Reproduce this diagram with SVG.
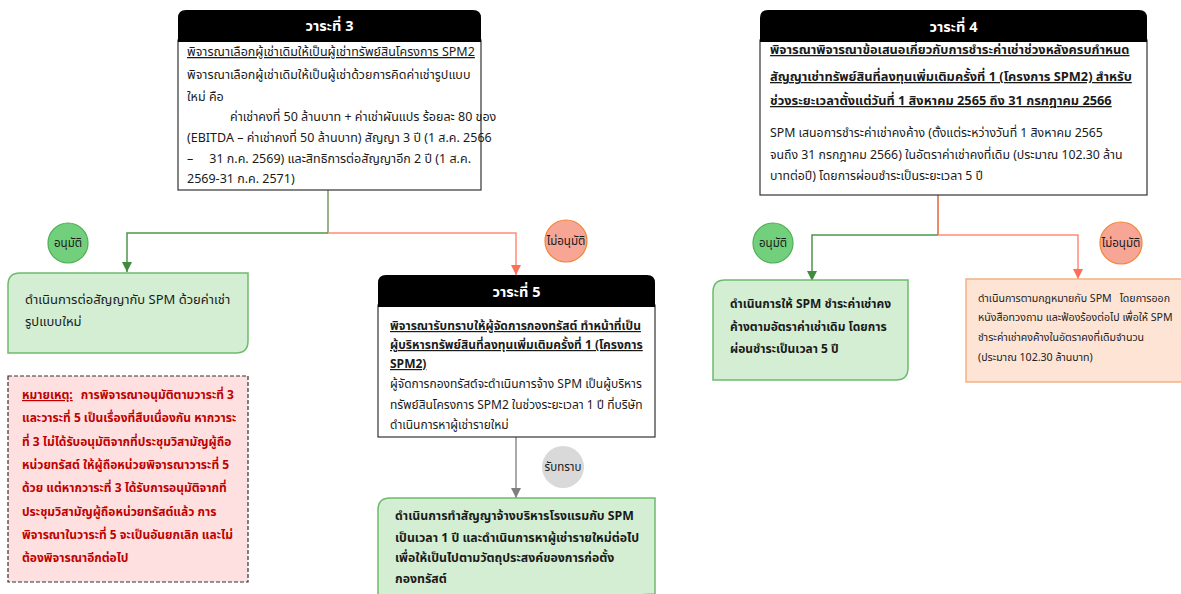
<svg xmlns="http://www.w3.org/2000/svg" width="1181" height="594" viewBox="0 0 1181 594">
<style>
text{font-family:"Noto Sans Thai","Tahoma","Leelawadee UI","Liberation Sans","DejaVu Sans",sans-serif;font-size:12px;fill:#1a1a1a}
.hd{fill:#fff;font-size:14.500px;font-weight:bold;text-anchor:middle}
.ul{text-decoration:underline}
.b{font-weight:bold}
.hdr{fill:#000}
.body{fill:#fff;stroke:#333;stroke-width:1.2}
.gbox{fill:#d3eed3;stroke:#6dbb6d;stroke-width:1.5}
.obox{fill:#fde4d4;stroke:#f4b183;stroke-width:1.5}
.note{fill:#fde0df;stroke:#333;stroke-width:1.2;stroke-dasharray:4 2}
.red{fill:#c00000;font-weight:bold}
.ok{fill:#72cf7c;stroke:#4fae57;stroke-width:1.2}
.no{fill:#f7a595;stroke:#f0852f;stroke-width:1.2}
.ack{fill:#d9d9d9}
.cl{font-size:11.500px;text-anchor:middle}
.gl{fill:none;stroke:#4f954f;stroke-width:1.5}
.rl{fill:none;stroke:#ff8a7a;stroke-width:1.5}
.gr{fill:none;stroke:#8c8c8c;stroke-width:1.5}
.s3 text{font-size:12.500px}
.s4 text{font-size:12.300px}
.s4 .t4{font-size:12.800px;font-weight:bold}
.or text{font-size:10.600px;fill:#222}
</style>
<defs>
<marker id="ag" markerUnits="userSpaceOnUse" markerWidth="12" markerHeight="12" refX="10" refY="5" orient="auto"><path d="M0 0 L10 5 L0 10 Z" fill="#3f8a3f"/></marker>
<marker id="ar" markerUnits="userSpaceOnUse" markerWidth="12" markerHeight="12" refX="10" refY="5" orient="auto"><path d="M0 0 L10 5 L0 10 Z" fill="#ff6e5a"/></marker>
<marker id="ay" markerUnits="userSpaceOnUse" markerWidth="12" markerHeight="12" refX="10" refY="5" orient="auto"><path d="M0 0 L10 5 L0 10 Z" fill="#7f7f7f"/></marker>
</defs>

<g id="connectors">
<path d="M328 190 V233" fill="none" stroke="#7a9a60" stroke-width="1.5"/>
<path class="gl" d="M328 233 H127 V272" marker-end="url(#ag)"/>
<path class="rl" d="M328 233 H516 V275" marker-end="url(#ar)"/>
<path d="M938 195 V235" fill="none" stroke="#e8603c" stroke-width="1.5"/>
<path class="gl" d="M938 235 H812 V281" marker-end="url(#ag)"/>
<path class="rl" d="M938 235 H1078 V279" marker-end="url(#ar)"/>
<path class="gr" d="M516 437 V498" marker-end="url(#ay)"/>
</g>

<g id="agenda3" class="s3">
<rect class="body" x="178" y="40" width="303" height="150"/>
<path class="hdr" d="M178 42 V18 Q178 10 186 10 H473 Q481 10 481 18 V42 Z"/>
<text class="hd" x="329.500" y="31" style="font-size:14.500px">วาระที่ 3</text>
<text class="ul" x="187" y="56">พิจารณาเลือกผู้เช่าเดิมให้เป็นผู้เช่าทรัพย์สินโครงการ SPM2</text>
<text x="187" y="79">พิจารณาเลือกผู้เช่าเดิมให้เป็นผู้เช่าด้วยการคิดค่าเช่ารูปแบบ</text>
<text x="187" y="101">ใหม่ คือ</text>
<text x="230" y="121">ค่าเช่าคงที่ 50 ล้านบาท + ค่าเช่าผันแปร ร้อยละ 80 ของ</text>
<text x="187" y="142">(EBITDA – ค่าเช่าคงที่ 50 ล้านบาท) สัญญา 3 ปี (1 ส.ค. 2566</text>
<text x="187" y="163">–</text>
<text x="471" y="163" text-anchor="end">31 ก.ค. 2569) และสิทธิการต่อสัญญาอีก 2 ปี (1 ส.ค.</text>
<text x="187" y="183">2569-31 ก.ค. 2571)</text>
</g>

<g id="agenda4" class="s4">
<rect class="body" x="760" y="40" width="387" height="155"/>
<path class="hdr" d="M760 42 V18 Q760 10 768 10 H1139 Q1147 10 1147 18 V42 Z"/>
<text class="hd" x="953.500" y="32" style="font-size:14.500px">วาระที่ 4</text>
<text class="ul t4" x="770" y="54">พิจารณาพิจารณาข้อเสนอเกี่ยวกับการชำระค่าเช่าช่วงหลังครบกำหนด</text>
<text class="ul t4" x="770" y="81">สัญญาเช่าทรัพย์สินที่ลงทุนเพิ่มเติมครั้งที่ 1 (โครงการ SPM2) สำหรับ</text>
<text class="ul t4" x="770" y="105">ช่วงระยะเวลาตั้งแต่วันที่ 1 สิงหาคม 2565 ถึง 31 กรกฎาคม 2566</text>
<text x="770" y="137">SPM เสนอการชำระค่าเช่าคงค้าง (ตั้งแต่ระหว่างวันที่ 1 สิงหาคม 2565</text>
<text x="770" y="159">จนถึง 31 กรกฎาคม 2566) ในอัตราค่าเช่าคงที่เดิม (ประมาณ 102.30 ล้าน</text>
<text x="770" y="180">บาทต่อปี) โดยการผ่อนชำระเป็นระยะเวลา 5 ปี</text>
</g>

<g id="agenda5">
<rect class="body" x="378" y="305" width="277" height="132"/>
<path class="hdr" d="M378 307 V283 Q378 275 386 275 H647 Q655 275 655 283 V307 Z"/>
<text class="hd" x="516.500" y="297">วาระที่ 5</text>
<text class="ul b" x="390" y="330">พิจารณารับทราบให้ผู้จัดการกองทรัสต์ ทำหน้าที่เป็น</text>
<text class="ul b" x="390" y="349">ผู้บริหารทรัพย์สินที่ลงทุนเพิ่มเติมครั้งที่ 1 (โครงการ</text>
<text class="ul b" x="390" y="368">SPM2)</text>
<text x="390" y="388">ผู้จัดการกองทรัสต์จะดำเนินการจ้าง SPM เป็นผู้บริหาร</text>
<text x="390" y="409">ทรัพย์สินโครงการ SPM2 ในช่วงระยะเวลา 1 ปี ที่บริษัท</text>
<text x="390" y="429">ดำเนินการหาผู้เช่ารายใหม่</text>
</g>

<g id="approve3">
<circle class="ok" cx="68" cy="243" r="20"/>
<text class="cl" x="68" y="247">อนุมัติ</text>
</g>
<g id="reject3">
<circle class="no" cx="566" cy="241" r="21"/>
<text class="cl" x="566" y="245">ไม่อนุมัติ</text>
</g>
<g id="approve4">
<circle class="ok" cx="773" cy="243" r="20"/>
<text class="cl" x="773" y="247">อนุมัติ</text>
</g>
<g id="reject4">
<circle class="no" cx="1121" cy="243" r="21"/>
<text class="cl" x="1121" y="247">ไม่อนุมัติ</text>
</g>
<g id="ack5">
<circle class="ack" cx="563" cy="467" r="21"/>
<text class="cl" x="563" y="471">รับทราบ</text>
</g>

<g id="result3ok">
<path class="gbox" d="M8 353 V285 Q8 273 20 273 H248 V341 Q248 353 236 353 Z"/>
<text x="25" y="304" style="font-size:13px">ดำเนินการต่อสัญญากับ SPM ด้วยค่าเช่า</text>
<text x="25" y="326" style="font-size:13px">รูปแบบใหม่</text>
</g>

<g id="note">
<rect class="note" x="8" y="376" width="240" height="206"/>
<text class="red" x="22" y="399" text-decoration="underline">หมายเหตุ:</text>
<text class="red" x="234" y="399" text-anchor="end">การพิจารณาอนุมัติตามวาระที่ 3</text>
<text class="red" x="22" y="422">และวาระที่ 5 เป็นเรื่องที่สืบเนื่องกัน หากวาระ</text>
<text class="red" x="22" y="446">ที่ 3 ไม่ได้รับอนุมัติจากที่ประชุมวิสามัญผู้ถือ</text>
<text class="red" x="22" y="469">หน่วยทรัสต์ ให้ผู้ถือหน่วยพิจารณาวาระที่ 5</text>
<text class="red" x="22" y="492">ด้วย แต่หากวาระที่ 3 ได้รับการอนุมัติจากที่</text>
<text class="red" x="22" y="516">ประชุมวิสามัญผู้ถือหน่วยทรัสต์แล้ว การ</text>
<text class="red" x="22" y="539">พิจารณาในวาระที่ 5 จะเป็นอันยกเลิก และไม่</text>
<text class="red" x="22" y="562">ต้องพิจารณาอีกต่อไป</text>
</g>

<g id="result5">
<path class="gbox" d="M378 610 V510 Q378 498 390 498 H655 V594 Z"/>
<text class="b" x="395" y="520" style="font-size:12.300px">ดำเนินการทำสัญญาจ้างบริหารโรงแรมกับ SPM</text>
<text class="b" x="395" y="542" style="font-size:12.300px">เป็นเวลา 1 ปี และดำเนินการหาผู้เช่ารายใหม่ต่อไป</text>
<text class="b" x="395" y="562" style="font-size:12.300px">เพื่อให้เป็นไปตามวัตถุประสงค์ของการก่อตั้ง</text>
<text class="b" x="395" y="583" style="font-size:12.300px">กองทรัสต์</text>
</g>

<g id="result4ok">
<path class="gbox" d="M713 380 V292 Q713 280 725 280 H908 V368 Q908 380 896 380 Z"/>
<text class="b" x="730" y="308">ดำเนินการให้ SPM ชำระค่าเช่าคง</text>
<text class="b" x="730" y="331">ค้างตามอัตราค่าเช่าเดิม โดยการ</text>
<text class="b" x="730" y="353">ผ่อนชำระเป็นเวลา 5 ปี</text>
</g>

<g id="result4no" class="or">
<rect class="obox" x="966" y="279" width="220" height="103"/>
<text x="978" y="302">ดำเนินการตามกฎหมายกับ SPM</text>
<text x="1170" y="302" text-anchor="end">โดยการออก</text>
<text x="978" y="321">หนังสือทวงถาม และฟ้องร้องต่อไป เพื่อให้ SPM</text>
<text x="978" y="341">ชำระค่าเช่าคงค้างในอัตราคงที่เดิมจำนวน</text>
<text x="978" y="361">(ประมาณ 102.30 ล้านบาท)</text>
</g>
</svg>
